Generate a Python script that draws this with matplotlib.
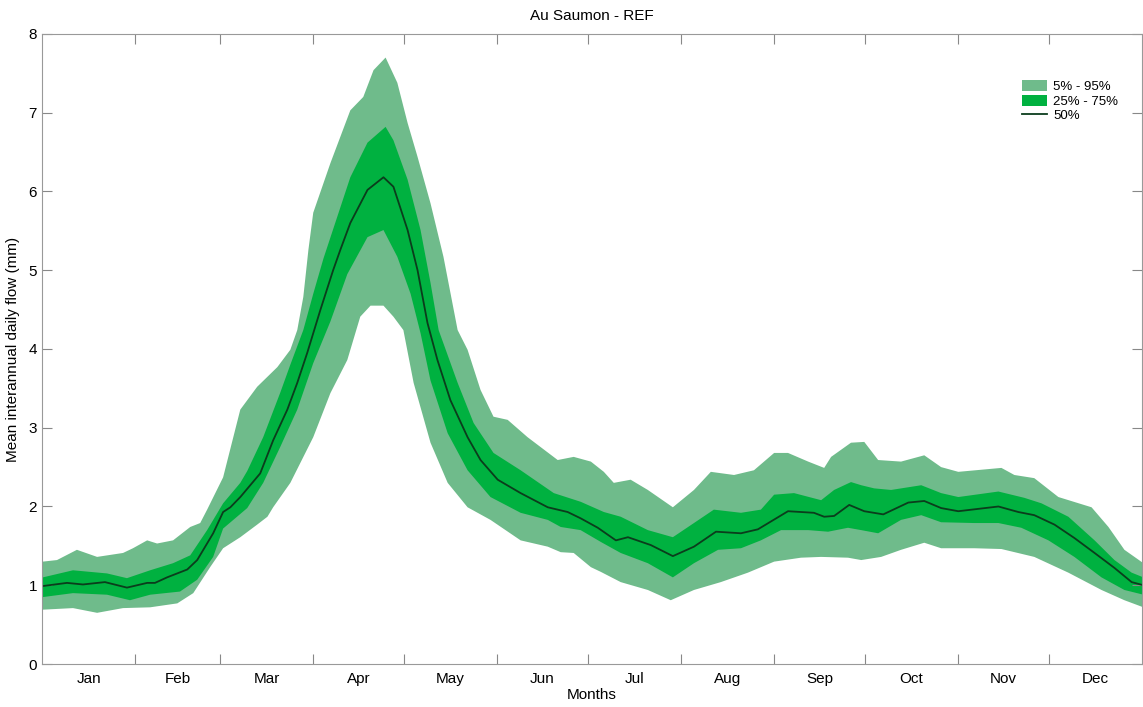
import numpy as np
import matplotlib
matplotlib.use("Agg")
import matplotlib.pyplot as plt

plt.rcParams['font.family'] = ['Liberation Sans', 'DejaVu Sans']

# day of year, value (mm) for each percentile curve
med_day = [0.3, 8.3, 13.6, 20.9, 28.2, 34.9, 37.5, 41.5, 48.2, 51.5, 56.8, 60.1, 62.5, 65.8,
           72.4, 76.7, 81.4, 84.7, 88.0, 92.4, 96.6, 99.0, 102.3, 108.0, 113.3, 116.6, 121.3,
           124.6, 127.9, 131.2, 135.5, 141.2, 145.5, 151.2, 158.8, 167.8, 174.4, 178.7, 184.4,
           190.4, 194.4, 202.0, 209.3, 216.3, 223.6, 231.9, 237.5, 247.5, 256.1, 259.5, 262.8,
           267.8, 272.8, 279.1, 287.4, 292.7, 298.3, 304.0, 317.3, 323.9, 329.2, 335.9, 342.5,
           349.2, 355.8, 361.5, 365.4]
med_val = [0.99, 1.03, 1.01, 1.04, 0.97, 1.03, 1.03, 1.10, 1.20, 1.32, 1.66, 1.93, 1.99, 2.12,
           2.42, 2.84, 3.23, 3.57, 3.95, 4.50, 5.00, 5.26, 5.60, 6.02, 6.18, 6.06, 5.51,
           5.00, 4.33, 3.86, 3.35, 2.88, 2.59, 2.34, 2.17, 1.99, 1.93, 1.85, 1.73,
           1.57, 1.61, 1.51, 1.37, 1.49, 1.68, 1.66, 1.71, 1.94, 1.92, 1.87, 1.88,
           2.02, 1.94, 1.90, 2.05, 2.07, 1.98, 1.94, 2.00, 1.93, 1.89, 1.77, 1.60,
           1.41, 1.22, 1.04, 1.00]

q75_day = [0.3, 10.3, 21.6, 28.2, 35.9, 43.5, 49.2, 54.8, 60.1, 65.8, 68.1, 73.4, 79.1, 82.4,
           86.7, 90.0, 93.4, 102.3, 108.0, 114.0, 116.6, 121.3, 125.6, 128.9, 131.6, 137.9,
           143.2, 149.8, 158.8, 169.8, 178.7, 186.4, 192.0, 201.0, 209.3, 216.3, 222.9, 231.9,
           238.5, 242.9, 249.5, 258.5, 262.8, 268.4, 271.8, 276.1, 281.7, 291.7, 298.3, 304.0,
           317.3, 325.9, 331.6, 340.5, 349.2, 355.8, 361.5, 365.4]
q75_val = [1.10, 1.19, 1.15, 1.09, 1.19, 1.28, 1.38, 1.70, 2.04, 2.30, 2.45, 2.88, 3.45, 3.80,
           4.24, 4.70, 5.15, 6.18, 6.62, 6.82, 6.65, 6.15, 5.51, 4.84, 4.24, 3.57,
           3.06, 2.68, 2.46, 2.17, 2.06, 1.93, 1.87, 1.70, 1.61, 1.79, 1.96, 1.92,
           1.96, 2.15, 2.17, 2.08, 2.21, 2.31, 2.27, 2.23, 2.21, 2.27, 2.17, 2.12,
           2.19, 2.11, 2.04, 1.87, 1.57, 1.32, 1.16, 1.10]

q25_day = [0.3, 10.3, 21.6, 29.2, 35.9, 45.8, 51.5, 56.8, 60.1, 68.1, 73.4, 79.1, 84.7, 90.0,
           95.7, 101.3, 108.0, 113.3, 117.9, 122.3, 125.6, 128.9, 134.6, 141.2, 148.8, 158.8,
           167.8, 172.1, 178.7, 185.4, 192.0, 201.0, 209.3, 216.3, 224.3, 231.9, 238.5, 245.2,
           254.2, 260.8, 267.4, 271.8, 277.4, 285.0, 291.7, 298.3, 309.3, 317.3, 324.9, 333.9,
           342.5, 351.5, 359.1, 365.4]
q25_val = [0.85, 0.90, 0.88, 0.81, 0.88, 0.92, 1.07, 1.36, 1.72, 1.98, 2.30, 2.76, 3.23, 3.82,
           4.35, 4.95, 5.42, 5.51, 5.17, 4.70, 4.20, 3.60, 2.93, 2.46, 2.12, 1.92,
           1.83, 1.74, 1.70, 1.55, 1.41, 1.28, 1.10, 1.28, 1.45, 1.47, 1.57, 1.70,
           1.70, 1.68, 1.73, 1.70, 1.66, 1.83, 1.89, 1.80, 1.79, 1.79, 1.73, 1.57,
           1.36, 1.10, 0.94, 0.88]

q95_day = [0.3, 5.0, 11.6, 18.3, 26.9, 30.2, 34.9, 38.2, 43.5, 49.2, 52.5, 54.8, 60.1, 65.8,
           71.4, 78.1, 82.4, 84.7, 86.7, 88.4, 90.0, 95.7, 102.3, 106.6, 110.0, 114.0, 117.9,
           121.3, 124.6, 128.9, 133.2, 137.9, 141.2, 145.5, 149.8, 154.5, 161.1, 171.1, 176.4,
           182.1, 186.4, 189.7, 195.3, 201.0, 209.3, 216.3, 221.9, 229.6, 236.2, 242.9, 247.5,
           254.2, 259.5, 261.8, 268.4, 272.8, 277.4, 285.0, 292.7, 298.3, 304.0, 318.3, 322.6,
           329.2, 337.2, 348.2, 353.8, 359.1, 365.4]
q95_val = [1.30, 1.32, 1.45, 1.36, 1.41, 1.47, 1.57, 1.53, 1.57, 1.74, 1.79, 1.96, 2.37, 3.23,
           3.52, 3.77, 3.99, 4.24, 4.66, 5.26, 5.73, 6.36, 7.03, 7.20, 7.54, 7.70, 7.38,
           6.87, 6.44, 5.85, 5.17, 4.24, 3.99, 3.48, 3.14, 3.10, 2.88, 2.59, 2.63,
           2.57, 2.44, 2.30, 2.34, 2.21, 1.99, 2.21, 2.44, 2.40, 2.46, 2.68, 2.68,
           2.57, 2.49, 2.63, 2.81, 2.82, 2.59, 2.57, 2.65, 2.50, 2.44, 2.49, 2.40,
           2.36, 2.12, 1.99, 1.74, 1.45, 1.28]

q05_day = [0.3, 10.3, 18.3, 26.9, 35.9, 44.9, 50.2, 55.8, 60.1, 65.8, 71.4, 74.8, 76.7, 82.4,
           90.0, 95.7, 101.3, 105.6, 109.0, 113.3, 116.6, 119.9, 123.3, 128.9, 134.6, 141.2,
           148.8, 158.8, 167.8, 172.1, 176.4, 182.1, 185.4, 192.0, 201.0, 208.6, 216.3, 225.2,
           234.2, 242.9, 251.8, 258.5, 267.4, 271.8, 278.4, 285.0, 292.7, 298.3, 309.3, 318.3,
           329.2, 340.5, 351.5, 359.1, 365.4]
q05_val = [0.69, 0.71, 0.65, 0.71, 0.72, 0.77, 0.90, 1.23, 1.47, 1.61, 1.77, 1.87, 1.99, 2.30,
           2.88, 3.44, 3.86, 4.41, 4.55, 4.55, 4.41, 4.24, 3.57, 2.81, 2.30, 1.99,
           1.83, 1.57, 1.49, 1.42, 1.41, 1.23, 1.17, 1.04, 0.94, 0.81, 0.94, 1.04,
           1.16, 1.30, 1.35, 1.36, 1.35, 1.32, 1.36, 1.45, 1.54, 1.47, 1.47, 1.46,
           1.36, 1.16, 0.94, 0.81, 0.72]

month_names = ['Jan', 'Feb', 'Mar', 'Apr', 'May', 'Jun', 'Jul', 'Aug', 'Sep', 'Oct', 'Nov', 'Dec']
month_len = [31, 28, 31, 30, 31, 30, 31, 31, 30, 31, 30, 31]

light = '#6fbb8b'
dark = '#00b140'
line_col = '#0b3d1c'

fig = plt.figure(figsize=(11.43, 7.07), dpi=100)
ax = fig.add_axes([0.0367, 0.0608, 0.9626, 0.8912])

ax.fill(np.concatenate([q95_day, q05_day[::-1]]), np.concatenate([q95_val, q05_val[::-1]]),
        color=light, lw=0, label='5% - 95%')
ax.fill(np.concatenate([q75_day, q25_day[::-1]]), np.concatenate([q75_val, q25_val[::-1]]),
        color=dark, lw=0, label='25% - 75%')
ax.plot(med_day, med_val, color=line_col, lw=1.3, label='50%')

ax.set_xlim(0, 365)
ax.set_ylim(0, 8)

edges = np.cumsum(month_len)
mids = edges - np.array(month_len) / 2.0
ax.set_xticks(edges[:-1])
ax.set_xticklabels([])
ax.set_xticks(mids, minor=True)
ax.set_xticklabels(month_names, minor=True)
ax.tick_params(axis='x', which='minor', length=0, pad=6, labelsize=11)
ax.tick_params(axis='x', which='major', direction='in', length=7, top=True, color='#888888')
ax.set_yticks(range(0, 9))
ax.tick_params(axis='y', direction='in', length=7, right=True, color='#888888', labelsize=11)
for s in ax.spines.values():
    s.set_color('#999999')

ax.set_title('Au Saumon - REF', fontsize=11, pad=10)
ax.set_xlabel('Months', fontsize=11, labelpad=1)
ax.set_ylabel('Mean interannual daily flow (mm)', fontsize=11, labelpad=6)

ax.legend(loc='upper right', bbox_to_anchor=(0.983, 0.935), frameon=False, fontsize=9.5,
          handlelength=1.9, handleheight=0.9, handletextpad=0.5, labelspacing=0.12,
          borderaxespad=0)

fig.savefig('out.png', dpi=100)
